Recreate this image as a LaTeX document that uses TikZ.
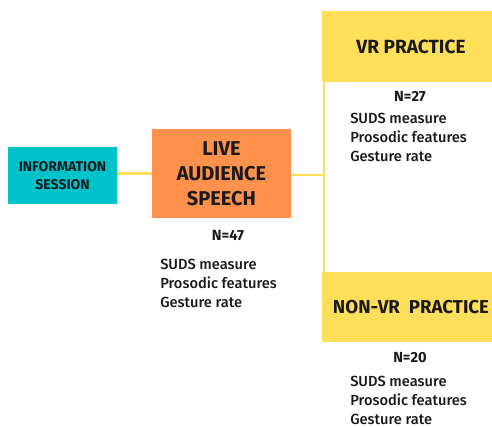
\documentclass[tikz,border=0pt]{standalone}
\usepackage{fontspec}
\setmainfont{Fira Sans}
\newfontfamily\medfont{Fira Sans Medium}
\definecolor{teal1}{HTML}{00C2CB}
\definecolor{orange1}{HTML}{FF914D}
\definecolor{yellow1}{HTML}{FFDE59}
\definecolor{ink}{HTML}{1A1A1A}
\begin{document}
\begin{tikzpicture}[x=0.75pt,y=-0.75pt,
  box/.style={rectangle,inner sep=0pt,text=ink,font=\bfseries,align=center},
  link/.style={draw=yellow1,line width=2.2pt},
  info/.style={font=\medfont\fontsize{11}{14.2}\selectfont,text=ink,align=left,inner sep=0pt},
  count/.style={font=\bfseries\fontsize{11}{12}\selectfont,text=ink,inner sep=0pt}]
\useasboundingbox (0,0) rectangle (492,427);
\begin{scope}
\clip (0,0) rectangle (492,427);
\node[box,fill=teal1,minimum width=109*0.75pt,minimum height=57*0.75pt,
  font=\bfseries\fontsize{10.5}{13}\selectfont] (infos) at (62.5,175.5) {INFORMATION\\SESSION};
\node[box,fill=orange1,minimum width=139*0.75pt,minimum height=89*0.75pt,
  font=\bfseries\fontsize{15}{18.75}\selectfont] (live) at (221.5,173.5) {LIVE\\AUDIENCE\\SPEECH};
\node[box,fill=yellow1,minimum width=178*0.75pt,minimum height=71*0.75pt,
  font=\bfseries\fontsize{14.3}{16}\selectfont] (vr) at (411,46.5) {\raisebox{-1.5pt}{VR PRACTICE}};
\node[box,fill=yellow1,minimum width=178*0.75pt,minimum height=70*0.75pt,
  font=\bfseries\fontsize{14}{16}\selectfont] (nvr) at (411,307) {NON-VR\ \ PRACTICE};
\end{scope}
\coordinate (junc) at (324,175);
\coordinate (vrb) at (324,82);
\coordinate (nvt) at (324,272);
\draw[link] (infos.east |- live.west) -- (live.west);
\draw[link] (live.east |- junc) -- (junc);
\draw[link] (vrb) -- (nvt);
\node[count] (n47) at (228,236) {N=47};
\node[info,anchor=north west] (l1) at (160,259) {SUDS measure\\Prosodic features\\Gesture rate};
\node[count] (n27) at (410,97) {N=27};
\node[info,anchor=north west] (l2) at (350,113) {SUDS measure\\Prosodic features\\Gesture rate};
\node[count] (n20) at (410,358) {N=20};
\node[info,anchor=north west] (l3) at (350,376) {SUDS measure\\Prosodic features\\Gesture rate};
\end{tikzpicture}
\end{document}
